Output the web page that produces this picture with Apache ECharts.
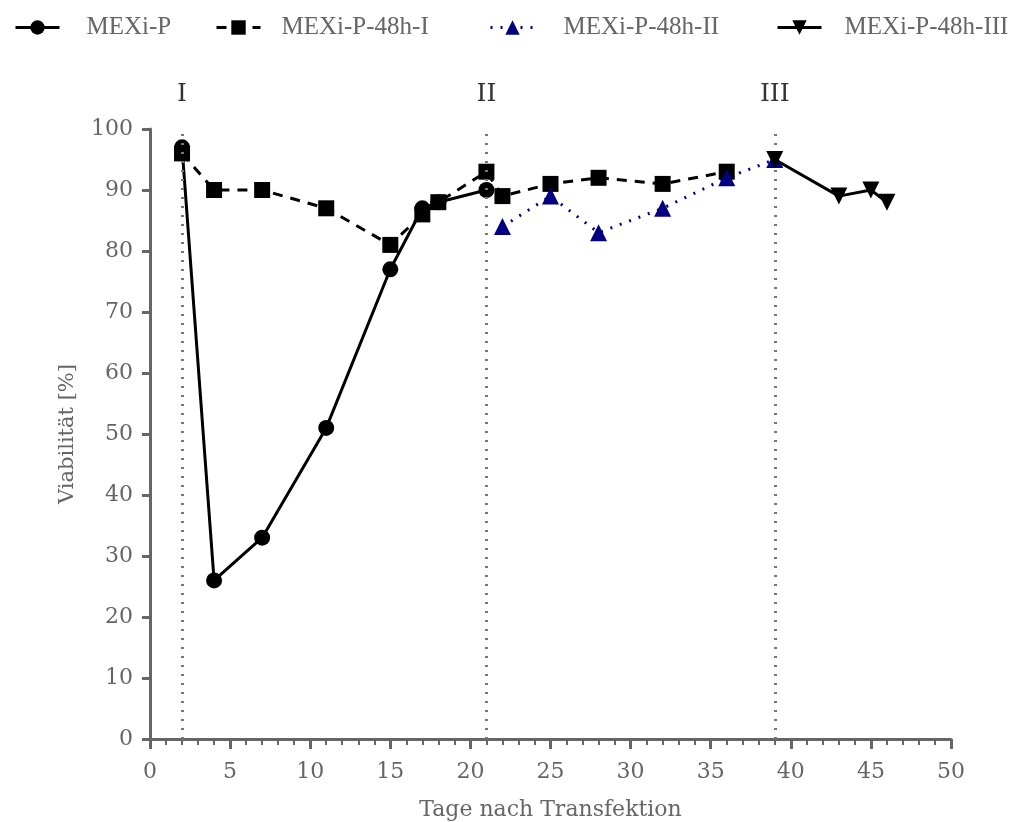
<!DOCTYPE html>
<html><head><meta charset="utf-8">
<script src="https://cdn.jsdelivr.net/npm/echarts@6/dist/echarts.min.js"></script>
<style>html,body{margin:0;padding:0;background:#fff}#c{width:1021px;height:822px}</style>
</head><body><div id="c"></div>
<script>
const seriesNames = ['MEXi-P', 'MEXi-P-48h-I', 'MEXi-P-48h-II', 'MEXi-P-48h-III'];
const mexiP = [[2, 97], [4, 26], [7, 33], [11, 51], [15, 77], [17, 87], [18, 88], [21, 90]];
const mexiP48I = [[2, 96], [4, 90], [7, 90], [11, 87], [15, 81], [17, 86], [18, 88], [21, 93], [22, 89], [25, 91], [28, 92], [32, 91], [36, 93]];
const mexiP48II = [[22, 84], [25, 89], [28, 83], [32, 87], [36, 92], [39, 95]];
const mexiP48III = [[39, 95], [43, 89], [45, 90], [46, 88]];
const phaseDays = [2, 21, 39];
const phaseLabels = ['I', 'II', 'III'];
const xTitle = 'Tage nach Transfektion';
const yTitle = 'Viabilität [%]';

const FONT = 'DejaVu Serif';
const LFONT = 'Liberation Serif';
const GRAY = '#666666';
const legendLefts = [9, 210, 484, 771];
const legendPads = [22, 16, 24, 18];

const chart = echarts.init(document.getElementById('c'), null, {renderer: 'canvas'});
chart.setOption({
  animation: false,
  textStyle: {fontFamily: FONT},
  legend: seriesNames.map((n, i) => ({
    top: 10, left: legendLefts[i], itemWidth: 44, itemHeight: 18, selectedMode: false,
    lineStyle: {width: 3},
    textStyle: {fontFamily: LFONT, fontSize: 25, color: GRAY, padding: [0, 0, 0, legendPads[i]]},
    data: [n]
  })),
  grid: {left: 150, right: 70, top: 129, bottom: 83, containLabel: false, outerBoundsMode: 'none'},
  xAxis: {
    type: 'value', min: 0, max: 50, interval: 5,
    name: xTitle, nameLocation: 'middle', nameGap: 60,
    nameTextStyle: {fontFamily: FONT, fontSize: 22, color: GRAY},
    axisLine: {onZero: false, lineStyle: {color: GRAY, width: 3}},
    axisTick: {show: true, length: 10, lineStyle: {color: GRAY, width: 3}},
    minorTick: {show: true, splitNumber: 5, length: 6, lineStyle: {color: GRAY, width: 2}},
    axisLabel: {fontFamily: FONT, fontSize: 22, color: GRAY, margin: 22},
    splitLine: {show: false}
  },
  yAxis: {
    type: 'value', min: 0, max: 100, interval: 10,
    name: yTitle, nameLocation: 'middle', nameGap: 72,
    nameTextStyle: {fontFamily: FONT, fontSize: 21, color: GRAY},
    axisLine: {show: true, lineStyle: {color: GRAY, width: 3}},
    axisTick: {show: true, length: 8, lineStyle: {color: GRAY, width: 3}},
    axisLabel: {fontFamily: FONT, fontSize: 22, color: GRAY, margin: 17},
    splitLine: {show: false}
  },
  series: [
    {
      name: seriesNames[0], type: 'line', data: mexiP, symbol: 'circle', symbolSize: 16,
      itemStyle: {color: '#000'}, lineStyle: {color: '#000', width: 3, type: 'solid'}, z: 3,
      markLine: {
        silent: true, symbol: ['none', 'none'],
        lineStyle: {color: '#777', width: 3, type: [2, 7]},
        label: {show: true, position: 'end', distance: 22, fontFamily: FONT, fontSize: 25, color: '#333',
          formatter: p => phaseLabels[phaseDays.indexOf(p.value)]},
        data: phaseDays.map(d => ({xAxis: d}))
      }
    },
    {
      name: seriesNames[1], type: 'line', data: mexiP48I, symbol: 'rect', symbolSize: 16,
      itemStyle: {color: '#000'}, lineStyle: {color: '#000', width: 3, type: [10, 8]}, z: 4
    },
    {
      name: seriesNames[2], type: 'line', data: mexiP48II, symbol: 'triangle', symbolSize: 17,
      itemStyle: {color: '#000080'}, lineStyle: {color: '#000080', width: 3, type: [2, 8]}, z: 5
    },
    {
      name: seriesNames[3], type: 'line', data: mexiP48III, symbol: 'triangle', symbolRotate: 180, symbolSize: 17,
      itemStyle: {color: '#000'}, lineStyle: {color: '#000', width: 3, type: 'solid'}, z: 6
    }
  ]
});
</script></body></html>
